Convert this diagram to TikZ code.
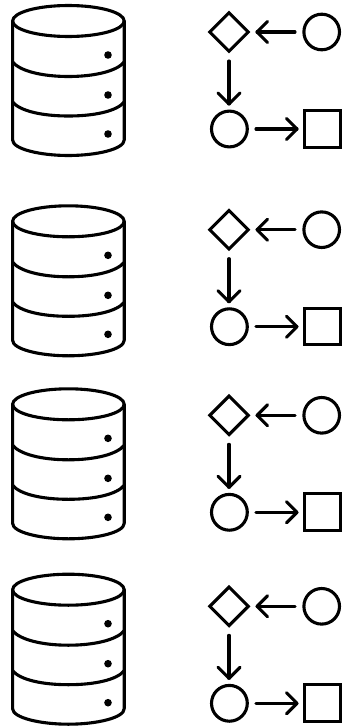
\documentclass[tikz,border=0pt]{standalone}
\usetikzlibrary{shapes.geometric}
\tikzset{
  x=1pt,y=-1pt,
  ink/.style={line width=3.1pt,black,line cap=round,line join=round},
  shapeline/.style={draw=black,line width=3.1pt,inner sep=0pt,outer sep=0pt,minimum size=0pt},
  conn/.style={line width=3.1pt,black,line cap=round,line join=round},
  headline/.style={line width=3.1pt,black,line cap=round,line join=round},
}
\newcommand{\cylicon}[1]{%
\begin{scope}[yshift=-#1pt]
  \draw[ink] (12.6,21) arc[x radius=55.8,y radius=15.5,start angle=180,end angle=-180];
  \draw[ink] (12.6,21) -- (12.6,140) .. controls (12.6,149) and (40,155.5) .. (68.4,155.5) .. controls (97,155.5) and (124.2,149) .. (124.2,140) -- (124.2,21);
  \draw[ink] (12.6,62) .. controls (20,71) and (42,76.5) .. (68.4,76.5) .. controls (95,76.5) and (117,71) .. (124.2,62);
  \draw[ink] (12.6,102) .. controls (20,111) and (42,116) .. (68.4,116) .. controls (95,116) and (117,111) .. (124.2,102);
  \fill (108,55) circle[radius=3.8];
  \fill (108,95) circle[radius=3.8];
  \fill (108,134) circle[radius=3.8];
\end{scope}}
\newcommand{\flowicon}[2]{%
\begin{scope}[yshift=-#1pt]
  \node[shapeline,diamond,aspect=1,minimum size=38.5pt] (d#2) at (229,32) {};
  \node[shapeline,circle,minimum size=35.6pt] (c#2) at (321.7,32) {};
  \node[shapeline,circle,minimum size=35.8pt] (e#2) at (229.4,129) {};
  \node[shapeline,rectangle,minimum size=36.5pt] (s#2) at (322.5,128.8) {};
  \coordinate (a#2) at (295,32);
  \coordinate (b#2) at (257,32);
  \draw[conn] (a#2) -- (b#2);
  \draw[headline] ([shift={(10.5,-10.5)}]b#2) -- (b#2) -- ([shift={(10.5,10.5)}]b#2);
  \coordinate (f#2) at (229,61);
  \coordinate (g#2) at (229,104);
  \draw[conn] (f#2) -- (g#2);
  \draw[headline] ([shift={(-11,-11)}]g#2) -- (g#2) -- ([shift={(11,-11)}]g#2);
  \coordinate (h#2) at (256,129);
  \coordinate (i#2) at (297,129);
  \draw[conn] (h#2) -- (i#2);
  \draw[headline] ([shift={(-10.5,-10.5)}]i#2) -- (i#2) -- ([shift={(-10.5,10.5)}]i#2);
\end{scope}}
\begin{document}
\begin{tikzpicture}
  \useasboundingbox (0,0) rectangle (344,728);
  \fill[white] (0,0) rectangle (344,728);
  \cylicon{0}
  \cylicon{200.3}
  \cylicon{383.3}
  \cylicon{568.7}
  \flowicon{0}{A}
  \flowicon{197.7}{B}
  \flowicon{383.3}{C}
  \flowicon{574.3}{D}
\end{tikzpicture}
\end{document}
